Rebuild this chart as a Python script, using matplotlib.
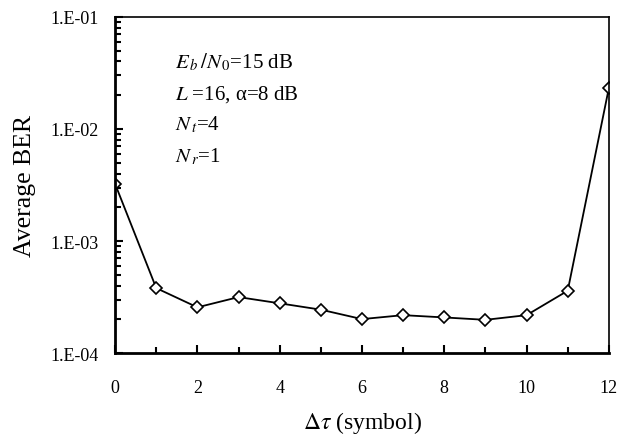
import numpy as np
import matplotlib
matplotlib.use("Agg")
import matplotlib.pyplot as plt
from matplotlib.ticker import FixedLocator, NullFormatter, LogLocator

plt.rcParams['font.family'] = ['Liberation Serif', 'DejaVu Serif']
plt.rcParams['mathtext.fontset'] = 'stix'

# data
delay = [0, 1, 2, 3, 4, 5, 6, 7, 8, 9, 10, 11, 12]
ber = [3.23e-3, 3.8e-4, 2.56e-4, 3.16e-4, 2.78e-4, 2.44e-4, 2.01e-4,
       2.18e-4, 2.08e-4, 1.98e-4, 2.18e-4, 3.6e-4, 2.32e-2]
ytick_vals = [1e-4, 1e-3, 1e-2, 1e-1]
ytick_labels = ['1.E-04', '1.E-03', '1.E-02', '1.E-01']
xtick_vals = [0, 2, 4, 6, 8, 10, 12]
notes = [r'$E_{\,b}\,/N_{\,0}$=15 dB', r'$L$ =16, α=8 dB',
         r'$N_{\,t}$=4', r'$N_{\,r}$=1']

fig = plt.figure(figsize=(6.29, 4.35), dpi=100)
ax = fig.add_axes([0.183, 0.186, 0.785, 0.773])

ax.plot(delay, ber, color='black', lw=1.3, marker='D', ms=6,
        mfc='white', mec='black', mew=1.2)

ax.set_yscale('log')
ax.set_ylim(1e-4, 1e-1)
ax.set_xlim(0, 12)
ax.set_yticks(ytick_vals)
ax.set_yticklabels(ytick_labels)
ax.yaxis.set_minor_locator(LogLocator(base=10, subs=np.arange(2, 10)))
ax.yaxis.set_minor_formatter(NullFormatter())
ax.set_xticks(xtick_vals)
ax.xaxis.set_minor_locator(FixedLocator([1, 3, 5, 7, 9, 11]))

ax.tick_params(which='both', direction='in', top=False, right=False,
               labelsize=13, width=1.5)
ax.tick_params(axis='x', which='major', length=6, pad=19)
ax.tick_params(axis='x', which='minor', length=4)
ax.tick_params(axis='y', which='major', length=6, pad=12)
ax.tick_params(axis='y', which='minor', length=4)

for side in ['left', 'bottom']:
    ax.spines[side].set_linewidth(2)
for side in ['right', 'top']:
    ax.spines[side].set_linewidth(1.2)

ax.set_ylabel('Average BER', fontsize=18.5, labelpad=10)
ax.set_xlabel(r'$\Delta\tau$ (symbol)', fontsize=17, labelpad=9)

for i, s in enumerate(notes):
    ax.text(0.122, 0.866 - i * 0.093, s, transform=ax.transAxes,
            fontsize=15, va='center', ha='left')

fig.savefig('out.png', dpi=100)
